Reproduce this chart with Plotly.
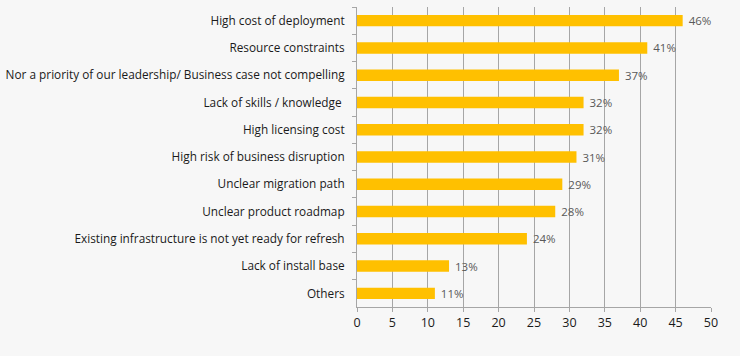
import plotly.graph_objects as go

categories = [
    "High cost of deployment",
    "Resource constraints",
    "Nor a priority of our leadership/ Business case not compelling",
    "Lack of skills / knowledge ",
    "High licensing cost",
    "High risk of business disruption",
    "Unclear migration path",
    "Unclear product roadmap",
    "Existing infrastructure is not yet ready for refresh",
    "Lack of install base",
    "Others",
]
values = [46, 41, 37, 32, 32, 31, 29, 28, 24, 13, 11]
x_ticks = [0, 5, 10, 15, 20, 25, 30, 35, 40, 45, 50]

fig = go.Figure(go.Bar(
    x=values,
    y=categories,
    orientation="h",
    marker=dict(color="#FFC000", line=dict(width=0)),
    texttemplate=" %{x}%",
    textposition="outside",
    constraintext="none",
    textfont=dict(color="#595959", size=11.5, family="Open Sans"),
    cliponaxis=False,
    width=0.42,
))

fig.update_layout(
    width=740, height=356,
    margin=dict(l=357, r=29, t=7, b=49),
    paper_bgcolor="#f7f7f7",
    plot_bgcolor="#f7f7f7",
    font=dict(family="Open Sans", size=11.8, color="#1a1a1a"),
    showlegend=False,
    xaxis=dict(
        range=[0, 50],
        tickvals=x_ticks,
        showgrid=True,
        gridcolor="#a6a6a6",
        gridwidth=1,
        showline=True,
        linecolor="#a6a6a6",
        ticks="outside",
        ticklen=4,
        tickcolor="#a6a6a6",
        zeroline=False,
        automargin=False,
        tickfont=dict(size=12.5, color="#1a1a1a"),
    ),
    yaxis=dict(
        autorange="reversed",
        showline=True,
        linecolor="#a6a6a6",
        ticks="outside",
        tickson="boundaries",
        ticklen=4,
        tickcolor="#a6a6a6",
        showgrid=False,
        automargin=False,
        ticklabelstandoff=9,
        tickfont=dict(size=11.8, color="#1a1a1a"),
    ),
)

fig.write_html(
    "out.html",
    config={"displayModeBar": False},
    post_script="document.body.style.margin='0';document.body.style.background='#f7f7f7';",
)
